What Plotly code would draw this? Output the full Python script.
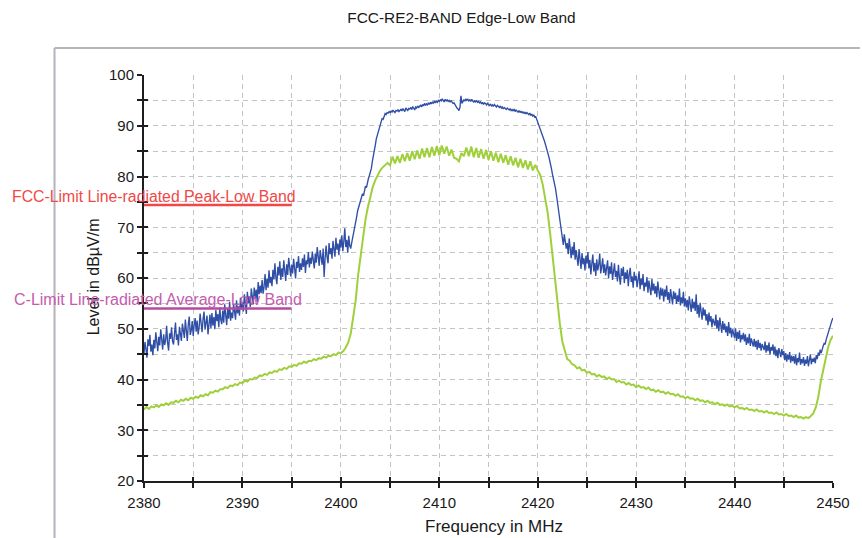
import numpy as np
import plotly.graph_objects as go

# Sweep limits (MHz)
F_START, F_STOP = 2380.0, 2450.0

# Peak detector trace, dBµV/m, 0.1 MHz steps (10 readings per MHz)
peak_dbuv = [
    45.1, 47.4, 46.0, 44.3, 47.9, 46.6, 48.8, 45.5, 46.9, 44.8,   # 2380
    47.8, 46.1, 49.3, 47.0, 45.6, 48.4, 46.7, 49.9, 47.3, 45.9,   # 2381
    48.9, 46.8, 47.7, 50.6, 47.2, 45.7, 49.1, 48.0, 50.3, 47.5,   # 2382
    46.9, 49.6, 51.2, 47.8, 48.9, 46.7, 50.4, 49.0, 47.6, 51.0,   # 2383
    49.9, 48.2, 51.8, 50.1, 47.6, 50.9, 52.4, 48.8, 49.7, 51.5,   # 2384
    48.6, 50.8, 52.1, 49.4, 51.6, 48.9, 50.2, 53.0, 50.7, 49.3,   # 2385
    51.9, 53.4, 49.8, 50.9, 52.6, 48.9, 51.4, 52.8, 50.1, 53.1,   # 2386
    50.6, 52.3, 49.9, 53.7, 51.5, 52.9, 50.3, 54.2, 51.8, 50.9,   # 2387
    53.6, 51.2, 54.8, 52.4, 50.7, 53.9, 52.0, 55.3, 51.6, 53.2,   # 2388
    52.1, 54.9, 53.3, 51.8, 55.6, 53.0, 54.4, 52.6, 56.1, 53.8,   # 2389
    55.2, 53.4, 56.8, 54.1, 52.9, 57.3, 55.0, 56.4, 54.3, 57.9,   # 2390
    56.2, 54.8, 58.1, 55.9, 57.7, 55.3, 59.2, 56.8, 58.5, 57.0,   # 2391
    59.6, 56.9, 58.3, 60.8, 57.6, 59.9, 58.1, 61.5, 59.0, 60.2,   # 2392
    58.4, 61.6, 59.7, 62.9, 60.1, 58.8, 62.2, 60.5, 63.3, 59.6,   # 2393
    61.9, 60.2, 63.5, 61.1, 59.4, 62.7, 60.6, 64.0, 61.8, 60.3,   # 2394
    62.6, 60.9, 63.8, 61.4, 59.9, 63.2, 62.0, 64.3, 61.2, 62.9,   # 2395
    61.6, 63.9, 62.2, 64.6, 61.0, 63.5, 62.7, 65.1, 62.1, 64.0,   # 2396
    62.8, 65.2, 63.4, 61.9, 64.8, 63.0, 66.1, 63.7, 62.4, 65.5,   # 2397
    64.3, 62.6, 65.8, 60.2, 63.9, 66.4, 64.1, 62.9, 66.9, 64.7,   # 2398
    65.9, 63.8, 67.3, 65.0, 64.2, 67.9, 65.6, 66.8, 64.5, 67.6,   # 2399
    66.0, 68.4, 65.3, 67.2, 69.8, 66.1, 67.5, 65.0, 68.3, 66.4,   # 2400
    65.8, 66.9, 67.8, 68.9, 70.2, 70.9, 72.0, 73.2, 73.9, 74.8,   # 2401
    75.3, 75.9, 76.6, 76.2, 77.4, 78.1, 77.8, 78.9, 79.6, 80.2,   # 2402
    80.9, 81.6, 83.0, 84.4, 85.1, 86.2, 87.4, 88.1, 88.9, 89.6,   # 2403
    90.2, 90.8, 91.5, 91.3, 92.0, 92.4, 92.2, 92.6, 92.5, 92.8,   # 2404
    92.6, 92.9, 92.7, 93.1, 92.8, 92.6, 93.0, 92.9, 93.2, 92.8,   # 2405
    93.0, 93.3, 92.9, 93.4, 93.1, 92.8, 93.5, 93.2, 93.0, 93.4,   # 2406
    93.3, 93.6, 93.2, 93.8, 93.4, 93.1, 93.7, 93.5, 93.9, 93.6,   # 2407
    93.8, 94.1, 93.7, 94.2, 93.9, 94.4, 94.0, 94.3, 94.1, 94.5,   # 2408
    94.2, 94.6, 94.3, 94.7, 94.4, 94.9, 94.5, 94.8, 94.6, 95.0,   # 2409
    94.8, 95.1, 94.9, 95.3, 95.0, 94.7, 95.2, 94.9, 95.1, 94.8,   # 2410
    95.0, 94.7, 94.9, 94.6, 94.4, 94.5, 94.1, 93.8, 93.5, 93.3,   # 2411
    93.0, 93.6, 95.9, 94.4, 94.8, 95.1, 94.9, 95.3, 95.0, 95.2,   # 2412
    94.9, 95.1, 94.8, 95.2, 94.9, 94.6, 95.0, 94.7, 94.9, 94.6,   # 2413
    94.8, 94.5, 94.7, 94.3, 94.6, 94.2, 94.5, 94.4, 94.1, 94.4,   # 2414
    94.2, 94.0, 94.3, 93.9, 94.1, 93.8, 94.2, 93.9, 93.7, 94.0,   # 2415
    93.8, 93.6, 93.9, 93.5, 93.7, 93.3, 93.6, 93.4, 93.2, 93.5,   # 2416
    93.3, 93.1, 93.4, 93.0, 93.2, 92.9, 93.3, 92.8, 93.1, 92.9,   # 2417
    92.7, 93.0, 92.6, 92.9, 92.5, 92.8, 92.4, 92.7, 92.3, 92.6,   # 2418
    92.4, 92.2, 92.5, 92.0, 92.3, 91.9, 92.1, 91.7, 91.8, 91.3,   # 2419
    90.6, 90.2, 89.8, 89.1, 88.6, 88.0, 87.4, 86.9, 86.2, 85.6,   # 2420
    85.0, 84.1, 83.3, 82.6, 81.5, 80.4, 79.6, 78.5, 77.7, 76.4,   # 2421
    75.0, 73.6, 72.1, 70.3, 68.7, 67.2, 66.5, 68.6, 67.0, 65.8,   # 2422
    66.9, 64.7, 67.8, 65.4, 63.9, 66.2, 64.5, 67.1, 63.6, 65.5,   # 2423
    64.1, 62.4, 65.7, 63.3, 61.8, 64.9, 62.7, 63.9, 61.5, 64.4,   # 2424
    62.8, 65.1, 61.9, 63.6, 60.7, 62.9, 64.6, 61.3, 63.0, 60.4,   # 2425
    63.7, 61.5, 62.6, 64.8, 60.9, 62.2, 63.9, 61.0, 62.7, 60.5,   # 2426
    61.8, 63.5, 59.9, 62.3, 60.8, 63.1, 59.6, 61.7, 62.9, 60.2,   # 2427
    61.4, 59.3, 62.6, 60.1, 58.7, 61.9, 60.4, 62.2, 59.0, 61.1,   # 2428
    59.8, 61.6, 58.4, 60.7, 62.0, 59.2, 60.3, 58.1, 61.2, 59.5,   # 2429
    60.4, 58.2, 59.7, 61.3, 57.8, 59.9, 58.6, 60.8, 57.4, 59.1,   # 2430
    58.3, 60.2, 57.1, 59.5, 58.0, 56.6, 59.8, 57.5, 58.9, 56.9,   # 2431
    58.4, 56.2, 59.3, 57.0, 55.8, 58.1, 56.5, 57.9, 55.4, 57.7,   # 2432
    56.3, 58.5, 55.7, 57.2, 55.1, 57.8, 56.0, 54.8, 57.4, 55.9,   # 2433
    57.1, 54.9, 56.6, 55.3, 57.9, 54.6, 56.2, 55.0, 57.3, 54.4,   # 2434
    56.0, 54.2, 55.7, 53.6, 56.4, 54.8, 53.3, 55.9, 54.0, 55.3,   # 2435
    53.5, 56.8, 52.9, 54.7, 52.2, 55.1, 53.0, 51.8, 54.2, 52.6,   # 2436
    53.8, 51.6, 52.9, 50.7, 53.2, 51.4, 52.5, 50.3, 52.0, 51.1,   # 2437
    50.6, 52.8, 50.0, 51.7, 49.5, 52.2, 50.4, 49.2, 51.5, 49.8,   # 2438
    51.0, 49.3, 50.5, 48.6, 51.3, 49.1, 50.2, 48.3, 49.9, 48.8,   # 2439
    48.2, 50.1, 47.6, 49.4, 48.0, 49.7, 47.3, 48.8, 47.9, 49.2,   # 2440
    47.5, 48.9, 46.8, 48.3, 47.1, 49.0, 46.6, 48.1, 47.4, 46.5,   # 2441
    48.0, 46.4, 47.6, 45.9, 47.8, 46.2, 47.2, 45.7, 47.0, 46.3,   # 2442
    45.8, 47.5, 45.3, 46.8, 45.6, 47.3, 44.9, 46.4, 45.7, 46.9,   # 2443
    44.9, 46.5, 44.6, 45.9, 44.2, 46.2, 45.0, 44.4, 46.0, 44.8,   # 2444
    45.6, 43.8, 45.2, 43.5, 44.9, 43.9, 45.4, 43.3, 44.7, 43.6,   # 2445
    44.6, 43.1, 44.9, 42.8, 44.2, 43.4, 45.3, 42.9, 44.0, 43.2,   # 2446
    44.4, 42.7, 43.9, 43.1, 44.6, 42.6, 43.8, 44.9, 43.0, 44.1,   # 2447
    43.5, 44.3, 43.2, 44.8, 44.0, 45.3, 44.7, 45.9, 45.2, 46.1,   # 2448
    46.6, 47.1, 46.9, 47.8, 48.5, 49.3, 50.1, 50.8, 51.3, 51.7,   # 2449
    52.1,                                                         # 2450
]

# Average detector trace, dBµV/m, 0.25 MHz steps (4 readings per MHz)
avg_dbuv = [
    34.1, 34.6, 34.2, 34.7,   # 2380
    34.5, 34.9, 34.6, 35.1,   # 2381
    34.9, 35.3, 35.0, 35.5,   # 2382
    35.4, 35.8, 35.5, 36.0,   # 2383
    35.8, 36.2, 35.9, 36.4,   # 2384
    36.2, 36.6, 36.4, 36.9,   # 2385
    36.7, 37.1, 36.9, 37.5,   # 2386
    37.4, 37.8, 37.6, 38.1,   # 2387
    38.1, 38.5, 38.3, 38.8,   # 2388
    38.7, 39.1, 38.9, 39.4,   # 2389
    39.3, 39.8, 39.6, 40.1,   # 2390
    40.0, 40.4, 40.3, 40.8,   # 2391
    40.7, 41.1, 40.9, 41.4,   # 2392
    41.3, 41.7, 41.5, 42.0,   # 2393
    41.9, 42.3, 42.1, 42.6,   # 2394
    42.5, 42.9, 42.7, 43.2,   # 2395
    43.1, 43.5, 43.3, 43.7,   # 2396
    43.6, 44.0, 43.8, 44.2,   # 2397
    44.1, 44.5, 44.3, 44.7,   # 2398
    44.6, 45.0, 44.8, 45.3,   # 2399
    45.2, 45.6, 46.3, 47.3,   # 2400
    49.0, 52.0, 55.5, 60.5,   # 2401
    64.5, 68.5, 71.5, 74.0,   # 2402
    76.0, 78.0, 79.3, 80.3,   # 2403
    81.2, 81.8, 82.3, 82.7,   # 2404
    82.2, 83.9, 82.6, 84.0,   # 2405
    82.7, 84.4, 83.0, 84.6,   # 2406
    83.1, 85.0, 83.4, 85.1,   # 2407
    83.5, 85.5, 83.8, 85.6,   # 2408
    83.8, 85.8, 84.1, 86.0,   # 2409
    84.2, 86.1, 84.5, 85.9,   # 2410
    84.1, 85.3, 83.7, 83.5,   # 2411
    83.0, 84.6, 84.0, 85.7,   # 2412
    84.0, 85.9, 83.8, 85.6,   # 2413
    83.7, 85.4, 83.5, 85.2,   # 2414
    83.3, 85.0, 83.1, 84.7,   # 2415
    82.8, 84.5, 82.7, 84.2,   # 2416
    82.3, 84.0, 82.2, 83.7,   # 2417
    81.8, 83.5, 81.7, 83.2,   # 2418
    81.4, 83.0, 81.2, 82.3,   # 2419
    81.2, 80.3, 78.5, 76.0,   # 2420
    73.0, 69.0, 64.5, 59.5,   # 2421
    55.0, 51.0, 47.5, 45.5,   # 2422
    44.0, 43.7, 43.0, 42.8,   # 2423
    42.2, 42.4, 41.8, 41.9,   # 2424
    41.3, 41.5, 41.0, 41.1,   # 2425
    40.6, 40.9, 40.5, 40.6,   # 2426
    40.1, 40.4, 40.0, 40.1,   # 2427
    39.5, 39.8, 39.4, 39.5,   # 2428
    39.0, 39.3, 38.9, 39.0,   # 2429
    38.5, 38.8, 38.4, 38.5,   # 2430
    38.1, 38.4, 37.9, 38.0,   # 2431
    37.6, 37.9, 37.5, 37.6,   # 2432
    37.2, 37.5, 37.1, 37.2,   # 2433
    36.8, 37.1, 36.6, 36.7,   # 2434
    36.3, 36.6, 36.2, 36.3,   # 2435
    35.9, 36.2, 35.8, 35.9,   # 2436
    35.5, 35.8, 35.4, 35.5,   # 2437
    35.1, 35.4, 35.0, 35.1,   # 2438
    34.8, 35.1, 34.7, 34.8,   # 2439
    34.5, 34.8, 34.3, 34.4,   # 2440
    34.1, 34.4, 34.0, 34.1,   # 2441
    33.8, 34.1, 33.7, 33.8,   # 2442
    33.5, 33.8, 33.4, 33.5,   # 2443
    33.2, 33.5, 33.1, 33.2,   # 2444
    32.9, 33.2, 32.8, 32.9,   # 2445
    32.6, 32.9, 32.5, 32.6,   # 2446
    32.3, 32.6, 32.4, 32.8,   # 2447
    33.3, 34.5, 36.5, 39.5,   # 2448
    42.0, 44.5, 46.3, 47.8,   # 2449
    48.6,                     # 2450
]

# Limit lines drawn over the lower band edge
limit_freq = [2380.0, 2395.0]
peak_limit = 74.4
avg_limit = 54.0
peak_limit_name = "FCC-Limit Line-radiated Peak-Low Band"
avg_limit_name = "C-Limit Line-radiated Average-Low Band"

peak_freq = np.linspace(F_START, F_STOP, len(peak_dbuv))
avg_freq = np.linspace(F_START, F_STOP, len(avg_dbuv))

# Page and plot-area geometry (pixels)
W, H = 862, 538
PL, PR, PT, PB = 144, 837, 75, 481


def fx(px):
    """Pixel column -> paper x fraction."""
    return (px - PL) / (PR - PL)


def fy(py):
    """Pixel row -> paper y fraction."""
    return (PB - py) / (PB - PT)


FONT = "Liberation Sans, Arial, sans-serif"
BLUE = "#2f4ea6"
GREEN = "#9fd03c"
RED = "#f04848"
PURPLE = "#b44c9e"
GRID = "#c4c4c4"
AXIS = "#1e1e1e"

fig = go.Figure()

fig.add_trace(go.Scatter(x=avg_freq, y=avg_dbuv, mode="lines",
                         line=dict(color=GREEN, width=2.0), name="Average"))
fig.add_trace(go.Scatter(x=peak_freq, y=peak_dbuv, mode="lines",
                         line=dict(color=BLUE, width=1.35), name="Peak"))
fig.add_trace(go.Scatter(x=limit_freq, y=[peak_limit] * 2, mode="lines",
                         line=dict(color=RED, width=2.5), name=peak_limit_name))
fig.add_trace(go.Scatter(x=limit_freq, y=[avg_limit] * 2, mode="lines",
                         line=dict(color=PURPLE, width=2.5), name=avg_limit_name))
# Empty trace on the overlay axes that carry the inner half of the ticks
fig.add_trace(go.Scatter(x=[F_START], y=[20], mode="lines", xaxis="x2", yaxis="y2",
                         line=dict(width=0), hoverinfo="skip", showlegend=False))

tick_font = dict(family=FONT, size=15, color="#1a1a1a")

fig.update_layout(
    width=W, height=H,
    margin=dict(l=PL, r=W - PR, t=PT, b=H - PB, pad=0),
    paper_bgcolor="white", plot_bgcolor="white",
    showlegend=False,
    title=dict(text="FCC-RE2-BAND Edge-Low Band", xref="container", yref="container",
               x=461.5 / W, y=1 - 18 / H, xanchor="center", yanchor="middle",
               font=dict(family=FONT, size=15.4, color="#1a1a1a")),
    xaxis=dict(range=[F_START, F_STOP], dtick=10, tick0=2380,
               showline=True, linecolor=AXIS, linewidth=2,
               ticks="outside", ticklen=5, tickwidth=1.5, tickcolor=AXIS,
               ticklabelstandoff=2, tickfont=tick_font,
               showgrid=True, gridcolor=GRID, griddash="5px,4px", gridwidth=1,
               minor=dict(dtick=5, ticks="outside", ticklen=5, tickwidth=1.5,
                          tickcolor=AXIS, showgrid=True, gridcolor=GRID,
                          griddash="5px,4px", gridwidth=1),
               zeroline=False, fixedrange=True),
    yaxis=dict(range=[20, 100], dtick=10, tick0=20,
               showline=True, linecolor=AXIS, linewidth=2,
               ticks="outside", ticklen=5, tickwidth=1.5, tickcolor=AXIS,
               ticklabelstandoff=0, tickfont=tick_font,
               showgrid=True, gridcolor=GRID, griddash="5px,4px", gridwidth=1,
               minor=dict(dtick=5, ticks="outside", ticklen=5, tickwidth=1.5,
                          tickcolor=AXIS, showgrid=True, gridcolor=GRID,
                          griddash="5px,4px", gridwidth=1),
               zeroline=False, fixedrange=True),
    xaxis2=dict(overlaying="x", anchor="y2", range=[F_START, F_STOP], dtick=10, tick0=2380,
                ticks="inside", ticklen=4, tickwidth=1.5, tickcolor=AXIS,
                minor=dict(dtick=5, ticks="inside", ticklen=4, tickwidth=1.5, tickcolor=AXIS),
                showticklabels=False, showgrid=False, showline=False, zeroline=False),
    yaxis2=dict(overlaying="y", anchor="x2", side="left", range=[20, 100], dtick=10, tick0=20,
                ticks="inside", ticklen=4, tickwidth=1.5, tickcolor=AXIS,
                minor=dict(dtick=5, ticks="inside", ticklen=4, tickwidth=1.5, tickcolor=AXIS),
                showticklabels=False, showgrid=False, showline=False, zeroline=False),
)

# Light grey panel frame (top and left edges)
frame = dict(type="line", xref="paper", yref="paper",
             line=dict(color="#b4b4bc", width=2), layer="below")
fig.add_shape(x0=fx(54), x1=fx(W + 2), y0=fy(48), y1=fy(48), **frame)
fig.add_shape(x0=fx(54), x1=fx(54), y0=fy(48), y1=fy(H + 2), **frame)

annotations = [
    # Axis titles
    dict(text="Frequency in MHz", xref="paper", yref="paper",
         x=fx(496.5), y=fy(526), xanchor="center", yanchor="middle", showarrow=False,
         font=dict(family=FONT, size=17, color="#1a1a1a")),
    dict(text="Level in dBµV/m", xref="paper", yref="paper", textangle=-90,
         x=fx(93), y=fy(277), xanchor="center", yanchor="middle", showarrow=False,
         font=dict(family=FONT, size=16, color="#1a1a1a")),
    # Limit line labels
    dict(text=peak_limit_name, xref="x", yref="y", x=2395.6, y=76.1,
         xanchor="right", yanchor="middle", showarrow=False,
         font=dict(family=FONT, size=15.8, color=RED)),
    dict(text=avg_limit_name, xref="x", yref="y", x=2396.25, y=55.8,
         xanchor="right", yanchor="middle", showarrow=False,
         font=dict(family=FONT, size=16, color="#c45cae")),
]
fig.update_layout(annotations=annotations)

fig.write_html("out.html")
